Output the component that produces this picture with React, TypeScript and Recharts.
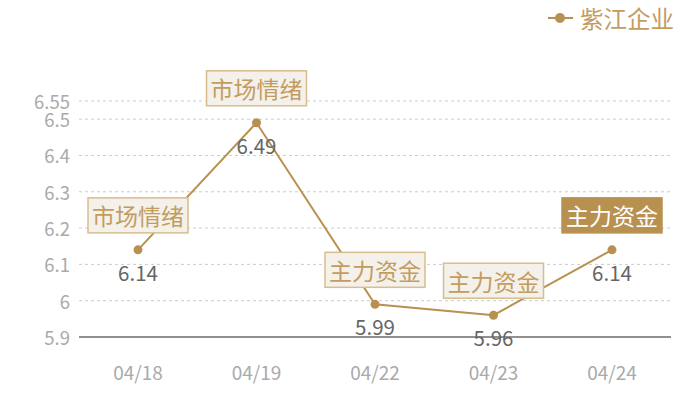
import { LineChart, Line, XAxis, YAxis, CartesianGrid } from "recharts";

const GOLD = "#b89150";
const GOLD_TEXT = "#c39c5f";
const BOX_FILL = "#f4f0ea";
const BOX_STROKE = "#d8bd8e";
const AXIS_TEXT = "#aaaaaa";
const VALUE_TEXT = "#666666";
const FONT = "'Noto Sans CJK SC', 'Noto Sans', sans-serif";

const dates = ["04/18", "04/19", "04/22", "04/23", "04/24"];
const prices = [6.14, 6.49, 5.99, 5.96, 6.14];
const tags = ["市场情绪", "市场情绪", "主力资金", "主力资金", "主力资金"];
const highlighted = [false, false, false, false, true];
const yTicks = [5.9, 6, 6.1, 6.2, 6.3, 6.4, 6.5, 6.55];
const gridValues = [6, 6.1, 6.2, 6.3, 6.4, 6.5, 6.55];

const data = dates.map((d, i) => ({ date: d, price: prices[i] }));

function XTick({ x, y, payload }: any) {
  return (
    <text x={x} y={y + 26} textAnchor="middle" dominantBaseline="central" fill={AXIS_TEXT} fontSize={19} fontFamily={FONT}>
      {payload.value}
    </text>
  );
}

function YTick({ x, y, payload }: any) {
  return (
    <text x={x - 1} y={y} textAnchor="end" dominantBaseline="central" fill={AXIS_TEXT} fontSize={18.5} fontFamily={FONT}>
      {payload.value}
    </text>
  );
}

function PointLabel({ x, y, index }: any) {
  const hi = highlighted[index];
  const w = 100;
  const h = 35;
  const bottom = y - 17;
  return (
    <g>
      <rect x={x - w / 2} y={bottom - h} width={w} height={h} fill={hi ? GOLD : BOX_FILL} stroke={hi ? GOLD : BOX_STROKE} strokeWidth={1.5} />
      <text x={x} y={bottom - h / 2} textAnchor="middle" dominantBaseline="central" fill={hi ? "#ffffff" : GOLD_TEXT} fontSize={23} fontFamily={FONT}>
        {tags[index]}
      </text>
      <text x={x} y={y + 22} textAnchor="middle" dominantBaseline="central" fill={VALUE_TEXT} fontSize={20.5} fontFamily={FONT}>
        {prices[index].toFixed(2)}
      </text>
    </g>
  );
}

export default function App() {
  return (
    <div style={{ position: "absolute", left: 0, top: 0, width: 700, height: 400, background: "#fff" }}>
      <div style={{ position: "absolute", top: 3, left: 548, display: "flex", alignItems: "center", fontFamily: FONT }}>
        <svg width={26} height={14} style={{ marginRight: 6 }}>
          <line x1={0} y1={7} x2={25} y2={7} stroke={GOLD} strokeWidth={2} />
          <circle cx={12} cy={7} r={5} fill={GOLD} />
        </svg>
        <span style={{ color: GOLD_TEXT, fontSize: 23.5, lineHeight: "30px" }}>紫江企业</span>
      </div>
      <LineChart width={700} height={400} data={data} margin={{ top: 101, right: 29, left: 0, bottom: 33 }}>
        <CartesianGrid stroke="#cccccc" strokeDasharray="3 3" vertical={false} horizontalValues={gridValues} />
        <XAxis
          dataKey="date"
          tick={<XTick />}
          tickLine={false}
          axisLine={{ stroke: "#222222", strokeWidth: 1.2 }}
          height={30}
          padding={{ left: 59, right: 59 }}
        />
        <YAxis
          domain={[5.9, 6.55]}
          ticks={yTicks}
          tick={<YTick />}
          tickLine={false}
          axisLine={false}
          width={79}
          interval={0}
        />
        <Line
          type="linear"
          dataKey="price"
          name="紫江企业"
          stroke={GOLD}
          strokeWidth={2}
          dot={{ r: 4.5, fill: GOLD, stroke: GOLD, strokeWidth: 0 }}
          activeDot={false}
          label={<PointLabel />}
          isAnimationActive={false}
        />
      </LineChart>
    </div>
  );
}
